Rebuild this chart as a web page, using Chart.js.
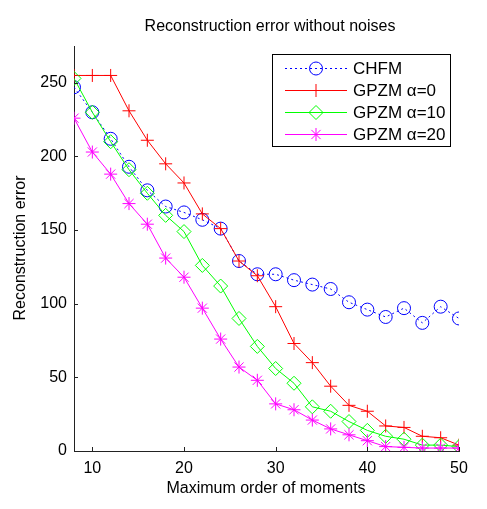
<!DOCTYPE html>
<html>
<head>
    <title>Reconstruction error without noises</title>
    <style>
        body { margin: 0; background: #fff; }
        #chart-container { width: 487px; height: 509px; }
    </style>
</head>
<body>
    <div id="chart-container">
        <canvas id="myChart" width="487" height="509"></canvas>
    </div>

    <script src="https://cdn.jsdelivr.net/npm/chart.js"></script>
    <script>
        // Maximum order of moments (x values)
        const orders = [8, 10, 12, 14, 16, 18, 20, 22, 24, 26, 28, 30, 32, 34, 36, 38, 40, 42, 44, 46, 48, 50];

        // Reconstruction error
        const chfm    = [247, 230, 212, 193, 177, 166, 162, 157, 151, 129, 120, 120, 116, 113, 110, 101, 96, 91, 97, 87, 98, 90];
        const gpzm0   = [255, 255, 255, 231, 211, 195, 182, 161, 151, 129, 119, 98, 73, 60, 44, 31, 27, 17, 16, 10, 9, 4];
        const gpzm10  = [253, 230, 210, 191, 175, 160, 149, 126, 112, 90, 71, 56, 46, 30, 27, 20, 14, 10, 8, 4, 4, 3];
        const gpzm20  = [226, 203, 188, 168, 154, 131, 118, 97, 76, 57, 48, 32, 28, 21, 15, 11, 7, 3, 2.5, 2, 2, 2];

        const seriesNames = ['CHFM', 'GPZM \u03b1=0', 'GPZM \u03b1=10', 'GPZM \u03b1=20'];
        const xTicks = [10, 20, 30, 40, 50];
        const yTicks = [0, 50, 100, 150, 200, 250];

        const FONT = 'Liberation Sans, Arial, sans-serif';

        function toPoints(values) {
            return orders.map((x, i) => ({ x: x, y: values[i] }));
        }

        function makeDataset(label, values, color, style, radius, dash, order) {
            return {
                label: label,
                data: toPoints(values),
                borderColor: color,
                backgroundColor: color,
                borderWidth: 1,
                borderDash: dash,
                pointStyle: style,
                pointRadius: radius,
                pointBorderColor: color,
                pointBackgroundColor: 'rgba(0,0,0,0)',
                pointBorderWidth: 1,
                tension: 0,
                order: order
            };
        }

        // Draws inward ticks, the titles and the legend box (MATLAB look)
        const decorations = {
            id: 'decorations',
            afterDraw(chart) {
                const ctx = chart.ctx;
                const xs = chart.scales.x;
                const ys = chart.scales.y;
                const area = chart.chartArea;

                ctx.save();
                ctx.strokeStyle = '#222';
                ctx.lineWidth = 1;
                ctx.beginPath();
                xTicks.forEach(v => {
                    const px = Math.round(xs.getPixelForValue(v)) + 0.5;
                    ctx.moveTo(px, area.bottom);
                    ctx.lineTo(px, area.bottom - 4);
                });
                yTicks.forEach(v => {
                    const py = Math.round(ys.getPixelForValue(v)) + 0.5;
                    ctx.moveTo(area.left, py);
                    ctx.lineTo(area.left + 4, py);
                });
                ctx.stroke();

                // titles
                ctx.fillStyle = '#000';
                ctx.font = '16px ' + FONT;
                ctx.textAlign = 'center';
                ctx.textBaseline = 'middle';
                ctx.fillText('Reconstruction error without noises', 270, 27);
                ctx.fillText('Maximum order of moments', 266, 489);
                ctx.translate(21, 248);
                ctx.rotate(-Math.PI / 2);
                ctx.fillText('Reconstruction error', 0, 0);
                ctx.restore();

                // legend
                ctx.save();
                ctx.fillStyle = '#fff';
                ctx.fillRect(272.5, 54.5, 178, 92);
                ctx.strokeStyle = '#000';
                ctx.lineWidth = 1;
                ctx.strokeRect(272.5, 54.5, 178, 92);
                const rows = [68, 90, 112, 134];
                chart.data.datasets.forEach((ds, i) => {
                    const y = rows[i] + 0.5;
                    ctx.strokeStyle = ds.borderColor;
                    ctx.lineWidth = 1;
                    ctx.setLineDash(ds.borderDash || []);
                    ctx.beginPath();
                    ctx.moveTo(285, y);
                    ctx.lineTo(347, y);
                    ctx.stroke();
                    ctx.setLineDash([]);
                    if (ds.pointStyle === 'cross') {
                        // legend shows only the vertical stroke of the marker line
                        ctx.beginPath();
                        ctx.moveTo(316, y - ds.pointRadius);
                        ctx.lineTo(316, y + ds.pointRadius);
                        ctx.stroke();
                    } else if (Chart.helpers && Chart.helpers.drawPoint) {
                        ctx.fillStyle = 'rgba(0,0,0,0)';
                        Chart.helpers.drawPoint(ctx, {
                            pointStyle: ds.pointStyle,
                            radius: ds.pointRadius,
                            borderWidth: 1,
                            rotation: 0
                        }, 316, y);
                    }
                    ctx.fillStyle = '#000';
                    ctx.font = '17px ' + FONT;
                    ctx.textAlign = 'left';
                    ctx.textBaseline = 'middle';
                    ctx.fillText(ds.label, 353, y + 1);
                });
                ctx.restore();
            }
        };

        const ctx = document.getElementById('myChart').getContext('2d');
        const myChart = new Chart(ctx, {
            type: 'line',
            data: {
                datasets: [
                    makeDataset(seriesNames[0], chfm, '#0000ff', 'circle', 6.5, [2, 3], 4),
                    makeDataset(seriesNames[1], gpzm0, '#ff0000', 'cross', 6.5, [], 3),
                    makeDataset(seriesNames[2], gpzm10, '#00ff00', 'rectRot', 7, [], 2),
                    makeDataset(seriesNames[3], gpzm20, '#ff00ff', 'star', 6.5, [], 1)
                ]
            },
            options: {
                responsive: false,
                animation: false,
                layout: { padding: { top: 46, right: 28, left: 0, bottom: 0 } },
                plugins: {
                    legend: { display: false },
                    title: { display: false },
                    tooltip: { enabled: false }
                },
                scales: {
                    x: {
                        type: 'linear',
                        min: 8,
                        max: 50,
                        afterBuildTicks: scale => { scale.ticks = xTicks.map(v => ({ value: v })); },
                        afterFit: scale => { scale.height = 58; },
                        grid: { drawOnChartArea: false, drawTicks: false },
                        border: { color: '#222', width: 1 },
                        ticks: { color: '#000', padding: 8, font: { family: FONT, size: 16 } }
                    },
                    y: {
                        min: 0,
                        max: 275,
                        afterBuildTicks: scale => { scale.ticks = yTicks.map(v => ({ value: v })); },
                        afterFit: scale => { scale.width = 74; },
                        grid: { drawOnChartArea: false, drawTicks: false },
                        border: { color: '#222', width: 1 },
                        ticks: { color: '#000', padding: 7, font: { family: FONT, size: 16 } }
                    }
                }
            },
            plugins: [decorations]
        });
    </script>
</body>
</html>
